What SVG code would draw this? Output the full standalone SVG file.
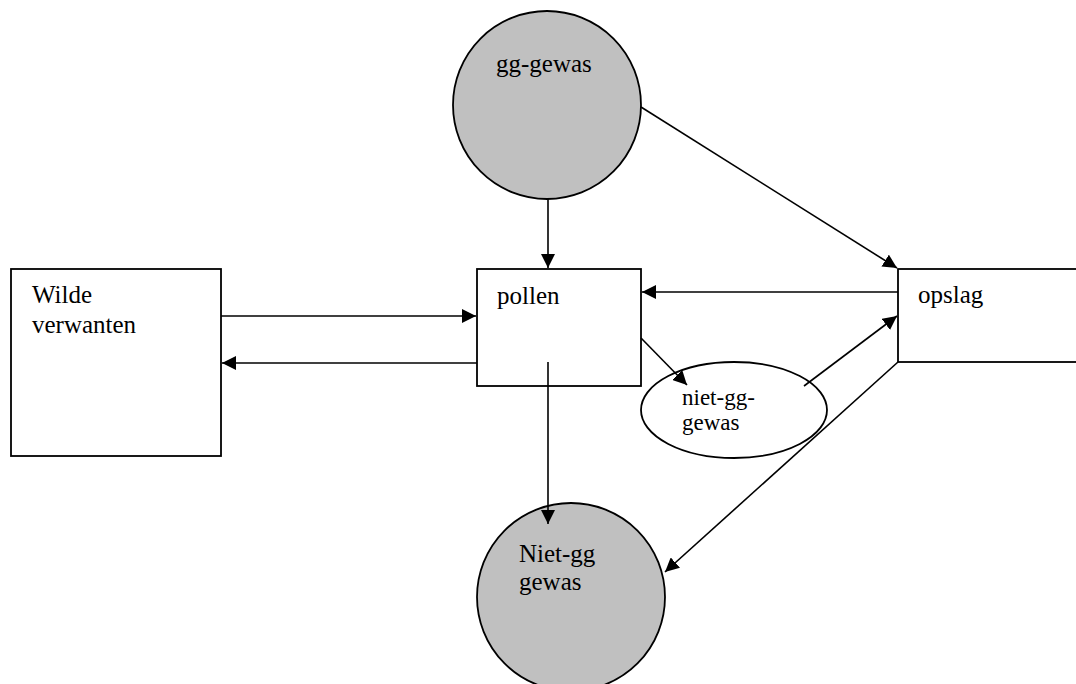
<svg xmlns="http://www.w3.org/2000/svg" width="1076" height="684" viewBox="0 0 1076 684">
<defs>
<marker id="ah" viewBox="0 0 14 14" refX="14" refY="7" markerWidth="14" markerHeight="14" markerUnits="userSpaceOnUse" orient="auto">
<path d="M0,0 L14,7 L0,14 Z" fill="#000"/>
</marker>
<style>
.box{fill:#fff;stroke:#000;stroke-width:1.8}
.gray{fill:#c0c0c0;stroke:#000;stroke-width:1.8}
.t{font-family:"Liberation Serif",serif;font-size:25px;fill:#000}
.ts{font-family:"Liberation Serif",serif;font-size:23px;fill:#000}
.c{stroke:#000;stroke-width:1.6;fill:none;marker-end:url(#ah)}
</style>
</defs>
<rect width="1076" height="684" fill="#fff"/>
<g id="gg-gewas">
<circle class="gray" cx="547" cy="105" r="94"/>
<text class="t" x="496" y="72">gg-gewas</text>
</g>
<g id="wilde">
<rect class="box" x="11" y="269" width="210" height="187"/>
<text class="t" x="32" y="303">Wilde</text>
<text class="t" x="32" y="333">verwanten</text>
</g>
<g id="pollen">
<rect class="box" x="477" y="269" width="164" height="117"/>
<text class="t" x="497" y="304">pollen</text>
</g>
<g id="opslag">
<rect class="box" x="898" y="269" width="190" height="93"/>
<text class="t" x="918" y="303">opslag</text>
</g>
<g id="niet-gg-gewas">
<ellipse class="box" cx="734" cy="410" rx="93" ry="48"/>
<text class="ts" x="682" y="405">niet-gg-</text>
<text class="ts" x="682" y="430">gewas</text>
</g>
<g id="niet-gg-gewas2">
<circle class="gray" cx="571" cy="597" r="94"/>
<text class="t" x="519" y="562">Niet-gg</text>
<text class="t" x="519" y="590">gewas</text>
</g>
<g id="connectors">
<line class="c" x1="548" y1="199" x2="548" y2="268"/>
<line class="c" x1="641" y1="107" x2="897" y2="268"/>
<line class="c" x1="221" y1="316" x2="476" y2="316"/>
<line class="c" x1="477" y1="363" x2="222" y2="363"/>
<line class="c" x1="898" y1="292" x2="642" y2="292"/>
<line class="c" x1="641" y1="338" x2="687" y2="385"/>
<line class="c" x1="804" y1="386" x2="897" y2="316"/>
<line class="c" x1="898" y1="362" x2="665" y2="572"/>
<line class="c" x1="548" y1="362" x2="548" y2="524"/>
</g>
</svg>
